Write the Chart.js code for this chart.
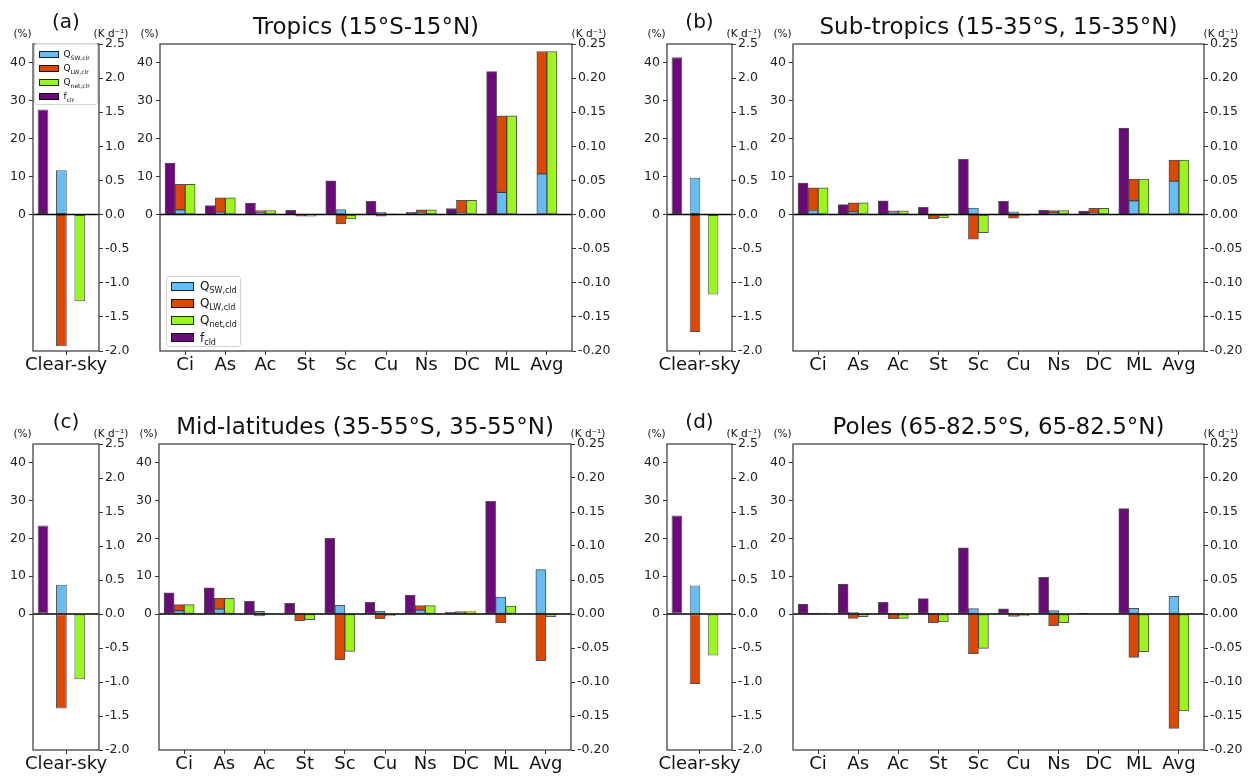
<!DOCTYPE html>
<html>
<head>
<meta charset="utf-8">
<script src="https://cdn.jsdelivr.net/npm/chart.js@4.4.1/dist/chart.umd.min.js"></script>
<style>
  body { margin: 0; background: #fff; }
  #fig { position: relative; width: 1248px; height: 776px; overflow: hidden; font-family: 'DejaVu Sans', sans-serif; color: #111; }
  #fig canvas { position: absolute; }
  .txt { position: absolute; transform: translate(-50%, -50%); white-space: nowrap; line-height: 1; }
  .leg { position: absolute; border: 1px solid #d4d4d4; border-radius: 3px; background: rgba(255,255,255,0.85); box-sizing: border-box; }
  .leg .row { display: flex; align-items: center; white-space: nowrap; }
  .leg .sw { display: inline-block; box-sizing: border-box; border: 1px solid rgba(0,0,0,0.8); flex: none; }
  .leg sub { line-height: 0; }
</style>
</head>
<body>
<div id="fig"></div>
<script>
const cloudTypes = ['Ci', 'As', 'Ac', 'St', 'Sc', 'Cu', 'Ns', 'DC', 'ML', 'Avg']
const clearLabel = ['Clear-sky']
const pctTicks = [0, 10, 20, 30, 40]
const clrTicks = [-2.0, -1.5, -1.0, -0.5, 0.0, 0.5, 1.0, 1.5, 2.0, 2.5]
const cldTicks = [-0.20, -0.15, -0.10, -0.05, 0.00, 0.05, 0.10, 0.15, 0.20, 0.25]

// clear-sky, one value per region: tropics, sub-tropics, mid-latitudes, poles
const clrFrac = [27.7, 41.5, 23.4, 26.1]
const clrSW = [0.65, 0.54, 0.43, 0.42]
const clrLW = [-1.93, -1.72, -1.39, -1.03]
const clrNet = [-1.27, -1.17, -0.96, -0.61]

// cloud types (LW stacks on SW when both are positive)
const tropFrac = [13.6, 2.4, 3.0, 1.1, 8.9, 3.5, 0.6, 1.6, 37.7, null]
const tropSW = [0.007, 0.0034, 0.003, 0.0003, 0.0074, 0.0034, 0.003, 0.002, 0.0325, 0.0596]
const tropLW = [0.0373, 0.0212, 0.003, -0.0025, -0.0138, -0.0025, 0.0039, 0.0187, 0.1122, 0.1794]
const tropNet = [0.0443, 0.0246, 0.006, -0.0022, -0.0064, 0.0009, 0.0069, 0.0207, 0.1447, 0.239]

const subFrac = [8.3, 2.6, 3.6, 1.9, 14.6, 3.5, 1.1, 0.9, 22.8, null]
const subSW = [0.006, 0.004, 0.0045, 0.0008, 0.0094, 0.004, 0.0025, 0.002, 0.0202, 0.0489]
const subLW = [0.033, 0.0133, 0.0009, -0.0059, -0.036, -0.0054, 0.0035, 0.007, 0.0318, 0.0311]
const subNet = [0.039, 0.0173, 0.0054, -0.0051, -0.0267, -0.0014, 0.006, 0.009, 0.052, 0.080]

const midFrac = [5.6, 6.9, 3.35, 2.8, 20.0, 3.1, 5.0, 0.44, 29.8, null]
const midSW = [0.005, 0.0074, 0.004, 0.0013, 0.0127, 0.0044, 0.0059, 0.001, 0.025, 0.0652]
const midLW = [0.0087, 0.0156, -0.003, -0.0097, -0.067, -0.0069, 0.0064, 0.0024, -0.0127, -0.0686]
const midNet = [0.0137, 0.023, 0.001, -0.0084, -0.055, -0.0029, 0.0123, 0.0034, 0.0118, -0.0039]

const poleFrac = [2.65, 7.9, 3.1, 4.06, 17.5, 1.4, 9.7, 0.05, 27.9, null]
const poleSW = [0.0008, 0.0025, 0.0005, 0.001, 0.0078, 0.0005, 0.0049, 0, 0.0083, 0.026]
const poleLW = [0.0005, -0.0064, -0.0069, -0.0127, -0.0583, -0.0034, -0.0172, 0, -0.0637, -0.1681]
const poleNet = [0.0013, -0.0039, -0.0064, -0.0118, -0.0505, -0.003, -0.0127, 0, -0.0554, -0.1426]

const C_SW = '#66bdf5'
const C_LW = '#dc4800'
const C_NET = '#9bf51f'
const C_F = '#6a0a78'
const EDGE = 'rgba(25,25,25,0.75)'

Chart.defaults.font.family = "'DejaVu Sans', sans-serif"

const panels = [
    { tag: '(a)', title: 'Tropics (15°S-15°N)', i: 0, frac: tropFrac, sw: tropSW, lw: tropLW, net: tropNet,
      csLeft: 33, csW: 66, mainLeft: 160, mainW: 412, top: 44, h: 307, legend: true },
    { tag: '(b)', title: 'Sub-tropics (15-35°S, 15-35°N)', i: 1, frac: subFrac, sw: subSW, lw: subLW, net: subNet,
      csLeft: 667, csW: 65, mainLeft: 793, mainW: 411, top: 44, h: 307 },
    { tag: '(c)', title: 'Mid-latitudes (35-55°S, 35-55°N)', i: 2, frac: midFrac, sw: midSW, lw: midLW, net: midNet,
      csLeft: 33, csW: 66, mainLeft: 159, mainW: 412, top: 444, h: 306 },
    { tag: '(d)', title: 'Poles (65-82.5°S, 65-82.5°N)', i: 3, frac: poleFrac, sw: poleSW, lw: poleLW, net: poleNet,
      csLeft: 667, csW: 65, mainLeft: 793, mainW: 411, top: 444, h: 306 }
]

const PAD_T = 14
const AX_B = 34
const fig = document.getElementById('fig')

const framePlugin = {
    id: 'frame',
    afterDatasetsDraw(chart) {
        const { ctx, chartArea: a, scales } = chart
        const y0 = scales.y1.getPixelForValue(0)
        ctx.save()
        ctx.strokeStyle = '#000'
        ctx.lineWidth = 1.4
        ctx.beginPath()
        ctx.moveTo(a.left, y0)
        ctx.lineTo(a.right, y0)
        ctx.stroke()
        ctx.strokeStyle = '#444'
        ctx.lineWidth = 1.3
        ctx.strokeRect(a.left, a.top, a.right - a.left, a.bottom - a.top)
        ctx.restore()
    }
}

function makeCanvas(left, top, width, height) {
    const c = document.createElement('canvas')
    c.width = width
    c.height = height
    c.style.left = left + 'px'
    c.style.top = top + 'px'
    c.style.width = width + 'px'
    c.style.height = height + 'px'
    fig.appendChild(c)
    return c
}

function bar(data, color, stack, axis) {
    return { data, backgroundColor: color, borderColor: EDGE, borderWidth: 1, borderSkipped: false, stack, yAxisID: axis }
}

function pad(n, stack) {
    return { data: new Array(n).fill(null), stack, yAxisID: 'y1' }
}

function valueAxis(pos, min, max, ticks, fmt, width, stacked) {
    return {
        type: 'linear',
        position: pos,
        min,
        max,
        stacked,
        afterBuildTicks: s => { s.ticks = ticks.map(v => ({ value: v })) },
        afterFit: s => { s.width = width },
        grid: { drawOnChartArea: false, tickLength: 4, tickColor: '#333' },
        border: { display: false },
        ticks: { font: { size: 12.5 }, color: '#222', padding: pos === 'left' ? 3 : 2, autoSkip: false, callback: fmt }
    }
}

function baseOptions(xScale, rightMin, rightMax, rightTicks, rightFmt, leftW, rightW, catPct, barPct) {
    return {
        responsive: false,
        animation: false,
        devicePixelRatio: 1,
        layout: { padding: { top: PAD_T, left: 0, right: 0, bottom: 0 } },
        datasets: { bar: { categoryPercentage: catPct, barPercentage: barPct } },
        plugins: { legend: { display: false }, tooltip: { enabled: false } },
        scales: {
            x: xScale,
            y: valueAxis('left', -36, 45, pctTicks, v => String(v), leftW, false),
            y1: valueAxis('right', rightMin, rightMax, rightTicks, rightFmt, rightW, true)
        }
    }
}

function xTickStyle() {
    return {
        afterFit: s => { s.height = AX_B },
        grid: { offset: false, drawOnChartArea: false, tickLength: 4, tickColor: '#333' },
        border: { display: false }
    }
}

function drawClear(p) {
    const leftW = 30, rightW = 42
    const canvas = makeCanvas(p.csLeft - leftW, p.top - PAD_T, leftW + p.csW + rightW, PAD_T + p.h + AX_B)
    const xScale = Object.assign({
        type: 'category',
        offset: true,
        stacked: true,
        ticks: { font: { size: 18 }, color: '#111', padding: 0, autoSkip: false, maxRotation: 0 }
    }, xTickStyle())
    new Chart(canvas, {
        type: 'bar',
        data: {
            labels: clearLabel,
            datasets: [
                bar([clrFrac[p.i]], C_F, 'f', 'y'),
                pad(1, 'p1'),
                bar([clrSW[p.i]], C_SW, 'q', 'y1'),
                bar([clrLW[p.i]], C_LW, 'q', 'y1'),
                pad(1, 'p2'),
                bar([clrNet[p.i]], C_NET, 'n', 'y1'),
                pad(1, 'p3')
            ]
        },
        options: baseOptions(xScale, -2.0, 2.5, clrTicks, v => v.toFixed(1), leftW, rightW, 0.836, 1.17),
        plugins: [framePlugin]
    })
}

function drawMain(p) {
    const leftW = 40, rightW = 48
    const canvas = makeCanvas(p.mainLeft - leftW, p.top - PAD_T, leftW + p.mainW + rightW, PAD_T + p.h + AX_B)
    const xScale = Object.assign({
        type: 'linear',
        min: -0.625,
        max: 9.625,
        offset: false,
        stacked: true,
        afterBuildTicks: s => { s.ticks = cloudTypes.map((_, k) => ({ value: k })) },
        ticks: { font: { size: 18 }, color: '#111', padding: 0, autoSkip: false, maxRotation: 0, callback: v => cloudTypes[v] }
    }, xTickStyle())
    new Chart(canvas, {
        type: 'bar',
        data: {
            labels: cloudTypes.map((_, k) => k),
            datasets: [
                bar(p.frac, C_F, 'f', 'y'),
                bar(p.sw, C_SW, 'q', 'y1'),
                bar(p.lw, C_LW, 'q', 'y1'),
                bar(p.net, C_NET, 'n', 'y1'),
                pad(cloudTypes.length, 'p')
            ]
        },
        options: baseOptions(xScale, -0.20, 0.25, cldTicks, v => v.toFixed(2), leftW, rightW, 1.0, 1.0),
        plugins: [framePlugin]
    })
}

function addText(str, x, y, size) {
    const d = document.createElement('div')
    d.className = 'txt'
    d.textContent = str
    d.style.left = x + 'px'
    d.style.top = y + 'px'
    d.style.fontSize = size + 'px'
    fig.appendChild(d)
}

function addLegend(x, y, w, h, padTop, rowH, swatch, fs, subFs, items) {
    const box = document.createElement('div')
    box.className = 'leg'
    box.style.cssText = `left:${x}px;top:${y}px;width:${w}px;height:${h}px;padding-top:${padTop}px`
    items.forEach(([color, main, sub]) => {
        const row = document.createElement('div')
        row.className = 'row'
        row.style.height = rowH + 'px'
        row.innerHTML = `<span class="sw" style="background:${color};width:${swatch[0]}px;height:${swatch[1]}px;margin-left:${swatch[2]}px;margin-right:${swatch[3]}px"></span>` +
            `<span style="font-size:${fs}px">${main}<sub style="font-size:${subFs}px">${sub}</sub></span>`
        box.appendChild(row)
    })
    fig.appendChild(box)
}

panels.forEach(p => {
    drawClear(p)
    drawMain(p)

    addText(p.tag, p.csLeft + p.csW / 2, p.top - 23, 20)
    addText('(%)', p.csLeft - 10.5, p.top - 11, 10.5)
    addText('(K d⁻¹)', p.csLeft + p.csW + 12, p.top - 11, 10.5)
    addText('(%)', p.mainLeft - 10.5, p.top - 11, 10.5)
    addText('(K d⁻¹)', p.mainLeft + p.mainW + 17, p.top - 11, 10.5)
    addText(p.title, p.mainLeft + p.mainW / 2, p.top - 18, 23)

    if (p.legend) {
        addLegend(p.csLeft + 1, p.top - 1, p.csW - 2, 62, 3, 14.1, [20, 7, 4, 4.5], 9, 6,
            [[C_SW, 'Q', 'SW,clr'], [C_LW, 'Q', 'LW,clr'], [C_NET, 'Q', 'net,clr'], [C_F, 'f', 'clr']])
        addLegend(p.mainLeft + 6, 276, 75, 71, 0.5, 17.2, [23, 9, 4, 6], 12, 8,
            [[C_SW, 'Q', 'SW,cld'], [C_LW, 'Q', 'LW,cld'], [C_NET, 'Q', 'net,cld'], [C_F, 'f', 'cld']])
    }
})
</script>
</body>
</html>
